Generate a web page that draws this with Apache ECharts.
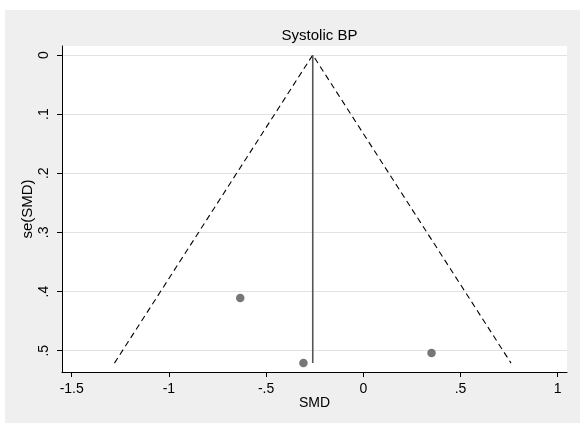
<!DOCTYPE html>
<html>
<head>
<meta charset="utf-8">
<script src="https://cdn.jsdelivr.net/npm/echarts@6/dist/echarts.min.js"></script>
<style>
  html, body { margin: 0; padding: 0; background: #fff; }
  #chart { width: 580px; height: 423px; }
</style>
</head>
<body>
<div id="chart"></div>
<script>
// study estimates (SMD) and their standard errors
var studySmd = [-0.633, -0.308, 0.351];
var studySe = [0.411, 0.521, 0.504];

// pooled estimate line
var pooledX = [-0.26, -0.26];
var pooledY = [0, 0.521];

// pseudo 95% confidence limits
var funnelX = [-1.28, -0.26, 0.76];
var funnelY = [0.521, 0, 0.521];

// axis tick ranges
var xTickMin = -1.5, xTickMax = 1, xTickStep = 0.5;
var yTickMin = 0, yTickMax = 0.5, yTickStep = 0.1;

// plot box (px)
var boxL = 62, boxR = 567, boxT = 46, boxB = 372;
// pixel spots of the first and last ticks
var xTickL = 71.7, xTickR = 557.7;
var yTickT = 55, yTickB = 350.7;

var W = 580, H = 423;

// extend the value ranges out to the box edges
var xPer = (xTickMax - xTickMin) / (xTickR - xTickL);
var xMin = xTickMin - (xTickL - boxL) * xPer;
var xMax = xTickMax + (boxR - xTickR) * xPer;
var yPer = (yTickMax - yTickMin) / (yTickB - yTickT);
var yMin = yTickMin - (yTickT - boxT) * yPer;
var yMax = yTickMax + (boxB - yTickB) * yPer;

function stataNum(v) {
    var s = String(Math.round(v * 1000) / 1000);
    return s.replace(/^0\./, '.').replace(/^-0\./, '-.');
}

var font = 'Liberation Sans, Arial, sans-serif';
var scatterData = [];
for (var i = 0; i < studySmd.length; i++) {
    scatterData.push([studySmd[i], studySe[i]]);
}
var funnelData = [];
for (var j = 0; j < funnelX.length; j++) {
    funnelData.push([funnelX[j], funnelY[j]]);
}
var pooledData = [[pooledX[0], pooledY[0]], [pooledX[1], pooledY[1]]];

var myChart = echarts.init(document.getElementById('chart'));
var option = {
    animation: false,
    textStyle: {fontFamily: font},
    graphic: [
        {type: 'rect', z: -20, shape: {x: 5, y: 10, width: W - 5, height: H - 10}, style: {fill: '#efefef'}},
        {type: 'rect', z: -19, shape: {x: boxL, y: boxT, width: boxR - boxL, height: boxB - boxT}, style: {fill: '#ffffff'}}
    ],
    title: {
        text: 'Systolic BP',
        left: (boxL + boxR) / 2, top: 23, textAlign: 'center',
        textStyle: {fontSize: 15, fontWeight: 'normal', color: '#000', fontFamily: font}
    },
    grid: [
        // data
        {left: boxL, right: W - boxR, top: boxT, bottom: H - boxB},
        // y ticks and grid lines
        {left: boxL, right: W - boxR, top: yTickT, bottom: H - yTickB},
        // x ticks
        {left: xTickL, right: W - xTickR, top: boxT, bottom: H - boxB}
    ],
    xAxis: [
        {gridIndex: 0, type: 'value', min: xMin, max: xMax,
            name: 'SMD', nameLocation: 'middle', nameGap: 24,
            nameTextStyle: {fontSize: 14, color: '#000', fontFamily: font},
            axisLine: {show: true, onZero: false, lineStyle: {color: '#000', width: 1}},
            axisTick: {show: false}, axisLabel: {show: false}, splitLine: {show: false}},
        {gridIndex: 1, type: 'value', min: xTickMin, max: xTickMax, show: false},
        {gridIndex: 2, type: 'value', min: xTickMin, max: xTickMax, interval: xTickStep,
            axisLine: {show: false, onZero: false},
            axisTick: {show: true, length: 5, lineStyle: {color: '#000'}},
            axisLabel: {margin: 10, fontSize: 14, color: '#000', fontFamily: font, formatter: stataNum},
            splitLine: {show: false}}
    ],
    yAxis: [
        {gridIndex: 0, type: 'value', inverse: true, min: yMin, max: yMax,
            name: 'se(SMD)', nameLocation: 'middle', nameGap: 27, nameRotate: 90,
            nameTextStyle: {fontSize: 15, color: '#000', fontFamily: font},
            axisLine: {show: true, onZero: false, lineStyle: {color: '#000', width: 1}},
            axisTick: {show: false}, axisLabel: {show: false}, splitLine: {show: false}},
        {gridIndex: 1, type: 'value', inverse: true, min: yTickMin, max: yTickMax, interval: yTickStep,
            axisLine: {show: false, onZero: false},
            axisTick: {show: true, length: 5, lineStyle: {color: '#000'}},
            axisLabel: {margin: 11, fontSize: 14, color: '#000', rotate: 90, fontFamily: font, formatter: stataNum},
            splitLine: {show: true, lineStyle: {color: '#e2e2e2', width: 1}}},
        {gridIndex: 2, type: 'value', min: 0, max: 1, show: false}
    ],
    series: [
        {type: 'line', xAxisIndex: 0, yAxisIndex: 0, data: funnelData, symbol: 'none',
            lineStyle: {color: '#000', width: 1.1, type: [6, 4]}, z: 3},
        {type: 'line', xAxisIndex: 0, yAxisIndex: 0, data: pooledData, symbol: 'none',
            lineStyle: {color: '#555555', width: 1.6}, z: 3},
        {type: 'scatter', xAxisIndex: 0, yAxisIndex: 0, data: scatterData, symbolSize: 8.5,
            itemStyle: {color: '#555555'}, z: 4}
    ]
};
myChart.setOption(option);
</script>
</body>
</html>
